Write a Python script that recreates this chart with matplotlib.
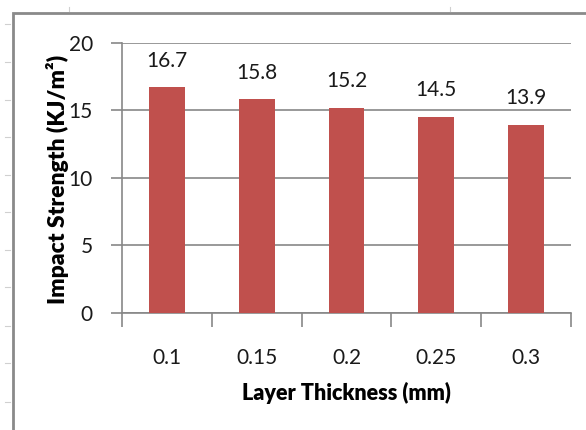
import matplotlib

matplotlib.use("Agg")
import matplotlib.pyplot as plt
from matplotlib.lines import Line2D
from matplotlib.patches import Rectangle

thickness = ["0.1", "0.15", "0.2", "0.25", "0.3"]
impact = [16.7, 15.8, 15.2, 14.5, 13.9]
y_ticks = [0, 5, 10, 15, 20]

BAR_COLOR = "#C0504D"
GRID_COLOR = "#878787"
W, H = 586, 430

plt.rcParams["font.family"] = ["Lato", "DejaVu Sans"]


def main():
    fig = plt.figure(figsize=(W / 100, H / 100), dpi=100)
    ax = fig.add_axes([122 / W, 1 - 313 / H, (571 - 122) / W, (313 - 42.7) / H])

    x = list(range(len(thickness)))
    bars = ax.bar(x, impact, width=0.4, color=BAR_COLOR, zorder=3)
    ax.bar_label(bars, labels=[f"{v:.1f}" for v in impact], padding=12,
                 fontsize=15, color="#1a1a1a")

    ax.set_xlim(-0.5, len(thickness) - 0.5)
    ax.set_ylim(0, 20)
    ax.set_yticks(y_ticks)
    ax.set_yticklabels([str(t) for t in y_ticks])
    ax.set_xticks(x)
    ax.set_xticklabels(thickness)
    ax.set_xticks([i - 0.5 for i in range(len(thickness) + 1)], minor=True)

    ax.grid(True, axis="y", color=GRID_COLOR, linewidth=1.2, zorder=0)
    ax.set_axisbelow(True)
    for side in ("top", "right"):
        ax.spines[side].set_visible(False)
    for side in ("left", "bottom"):
        ax.spines[side].set_color(GRID_COLOR)
        ax.spines[side].set_linewidth(1.2)

    ax.tick_params(axis="y", length=8, width=1.2, color=GRID_COLOR,
                   pad=13, labelsize=15, labelcolor="#1a1a1a")
    ax.tick_params(axis="x", which="major", length=0, pad=25,
                   labelsize=15, labelcolor="#1a1a1a")
    ax.tick_params(axis="x", which="minor", length=10, width=1.2,
                   color=GRID_COLOR)

    ax.set_xlabel("Layer Thickness (mm)", fontsize=15.5, fontweight="heavy",
                  labelpad=10)
    ax.set_ylabel("Impact Strength (KJ/m²)", fontsize=16.5, fontweight="heavy")
    ax.yaxis.set_label_coords(-(122 - 69) / (571 - 122), (313 - 179) / (313 - 42.7))

    # outer chart frame, cut off at right and bottom
    fig.patches.append(Rectangle((13 / W, -0.1), 1.2, 1 - 13 / H + 0.1,
                                 transform=fig.transFigure, fill=False,
                                 edgecolor="#8a8a8a", linewidth=2))
    # faint ruler marks left and top
    for yy in [24, 62, 100, 137, 175, 212, 250, 287, 326, 363, 402]:
        fig.lines.append(Line2D([5 / W, 10 / W], [1 - yy / H, 1 - yy / H],
                                transform=fig.transFigure, color="#d0d0d0",
                                linewidth=0.8))
    for xx in [69, 450]:
        fig.lines.append(Line2D([xx / W, xx / W], [1 - 7 / H, 1 - 11 / H],
                                transform=fig.transFigure, color="#d0d0d0",
                                linewidth=0.8))

    fig.savefig("out.png", dpi=100)


if __name__ == "__main__":
    main()
